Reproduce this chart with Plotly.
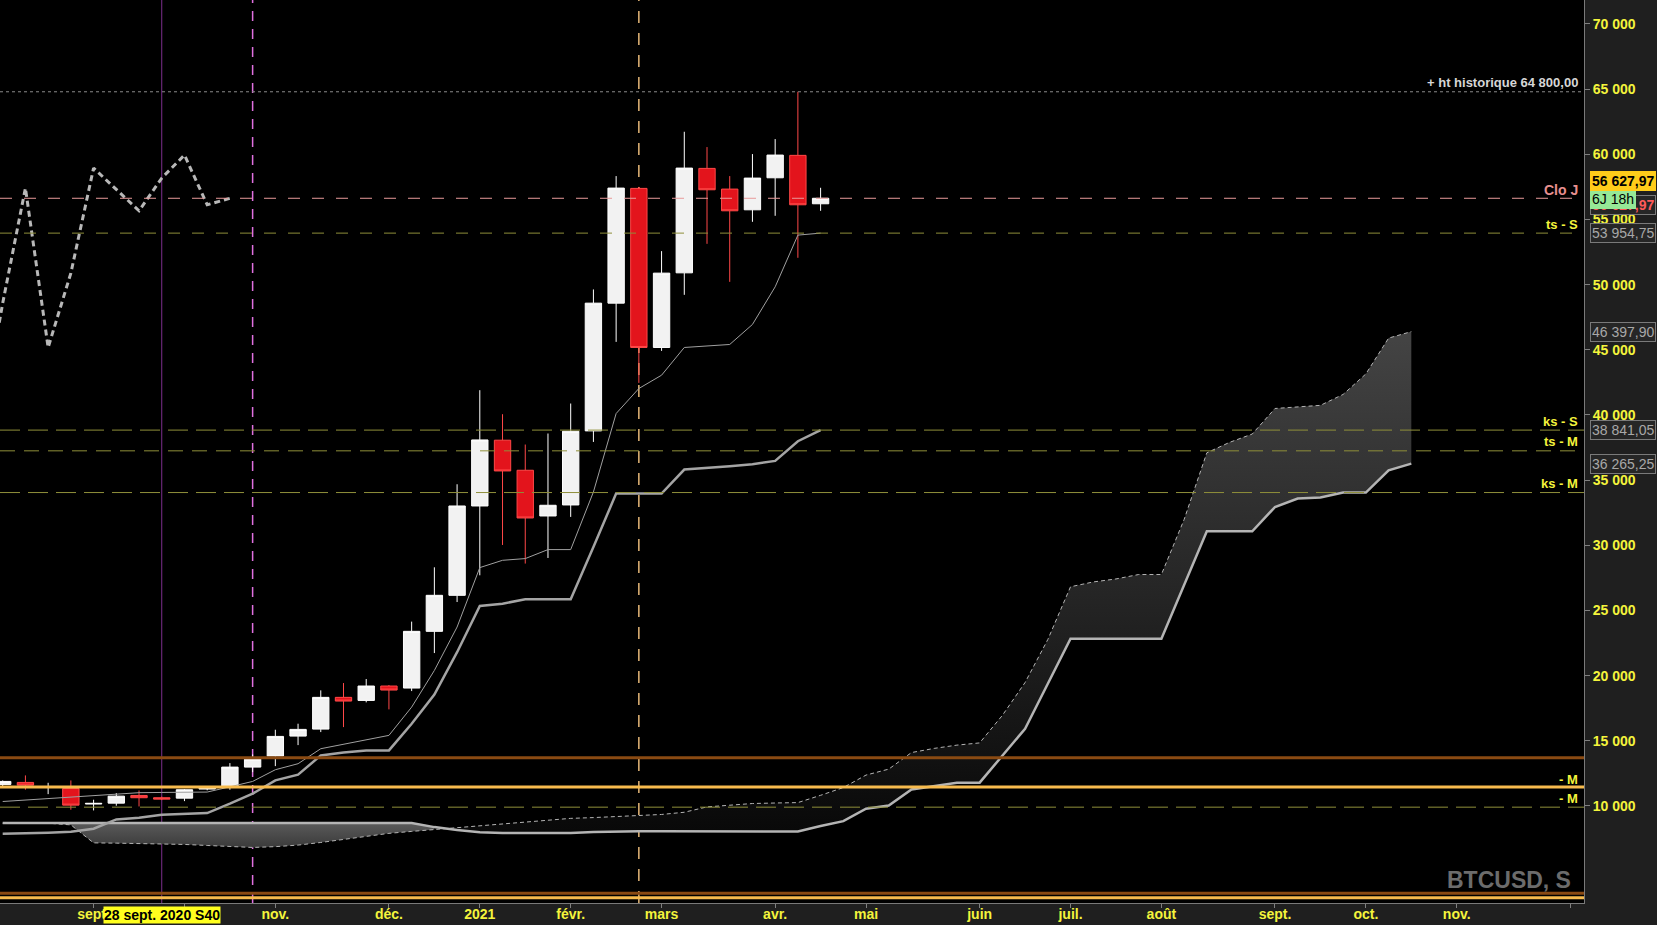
import pandas as pd
import plotly.graph_objects as go

# weekly BTCUSD candles (each Monday)
first_week = "2020-08-10"
opens = [11655, 11808, 11420, 11348, 10150, 10220, 10808, 10634, 10603, 11300,
         11500, 12984, 13830, 15364, 15900, 18334, 18100, 19204, 19049, 23401,
         26164, 33020, 38066, 35760, 32252, 33097, 38780, 48581, 57386, 45180,
         50907, 58920, 57333, 55744, 58200, 59920, 56206]
highs = [11960, 12346, 11780, 11960, 10480, 10990, 11190, 10720, 11300, 11450,
         13291, 13956, 15852, 16313, 18872, 19434, 19741, 19280, 24146, 28314,
         34686, 41903, 40060, 37733, 38580, 40880, 49633, 58330, 57500, 52573,
         61732, 60557, 58330, 60020, 61171, 64800, 57433]
lows = [11400, 11250, 10910, 9714, 9660, 10020, 9966, 10450, 10375, 11200,
        11248, 12598, 13060, 14672, 15670, 16053, 17950, 17412, 18818, 21735,
        25650, 27700, 30027, 28600, 29030, 32180, 37933, 45610, 42463, 44920,
        49219, 53133, 50216, 54822, 55283, 52060, 55667]
closes = [11885, 11600, 11470, 10066, 10200, 10757, 10634, 10527, 11248, 11370,
          12984, 13598, 15339, 15877, 18334, 18050, 19204, 18896, 23401, 26164,
          33020, 38087, 35707, 32098, 33073, 38755, 48581, 57410, 45180, 50885,
          58945, 57280, 55667, 58177, 59943, 56128, 56628]

# ichimoku lines on the same weeks
tenkan = [10345, 10450, 10560, 10670, 10780, 10900, 11020, 11040, 11060, 11070,
          11470, 11885, 12783, 13244, 14395, 14730, 15070, 15417, 17588, 20400,
          23731, 28291, 28851, 28982, 29673, 29673, 34095, 40113, 42033, 43054,
          45180, 45280, 45410, 46946, 49833, 53802, 53955]
kijun = [7870, 7900, 7950, 8024, 8255, 8968, 9100, 9330, 9407, 9458,
         10175, 10943, 11963, 12400, 13881, 14112, 14265, 14265, 16315, 18550,
         21800, 25345, 25525, 25858, 25858, 25858, 29873, 33970, 33970, 33970,
         35813, 35916, 36070, 36222, 36476, 37990, 38841]

# cloud, runs 26 weeks past the last candle
span_a = [8680, 8680, 8680, 8550, 7170, 7150, 7130, 7120, 7050, 6970,
          6900, 6820, 6880, 7000, 7200, 7450, 7700, 7900, 8050, 8200,
          8350, 8500, 8650, 8800, 8950, 9050, 9110, 9180, 9260, 9350,
          9520, 9930, 10060, 10190, 10230, 10260, 10820, 11414, 12373, 12830,
          14100, 14420, 14670, 14840, 16950, 19475, 22770, 26820, 27190, 27420,
          27760, 27760, 31980, 37100, 37900, 38540, 40500, 40600, 40740, 41580,
          43150, 45900, 46397.9]
span_b = [8700, 8700, 8700, 8700, 8700, 8700, 8700, 8700, 8700, 8700,
          8700, 8700, 8700, 8700, 8700, 8700, 8700, 8700, 8700, 8380,
          8150, 7990, 7930, 7930, 7930, 7930, 8000, 8040, 8060, 8060,
          8060, 8060, 8060, 8060, 8060, 8050, 8460, 8840, 9790, 10040,
          11270, 11530, 11790, 11790, 13860, 15930, 19380, 22840, 22840, 22840,
          22840, 22840, 26960, 31080, 31080, 31080, 32940, 33590, 33670, 34050,
          34050, 35760, 36265.25]
cloud_cross = 19  # week where span A goes above span B

shift_weeks = 26

# horizontal levels
ath = 64800
clo_j = 56627.97
ts_s = 53954.75
ks_s = 38841.05
ts_m = 37250
ks_m = 34050
brown_level = 13700
orange_level = 11450
m_dash_level = 9910
low_brown = 3310
low_orange = 2960

# price boxes on the right axis
box_values = [53954.75, 46397.90, 38841.05, 36265.25]
box_texts = ["53 954,75", "46 397,90", "38 841,05", "36 265,25"]

y_ticks = [10000, 15000, 20000, 25000, 30000, 35000, 40000, 45000, 50000,
           55000, 60000, 65000, 70000]
y_labels = ["10 000", "15 000", "20 000", "25 000", "30 000", "35 000", "40 000",
            "45 000", "50 000", "55 000", "60 000", "65 000", "70 000"]
# oct. 2020 sits under the crosshair date box, so its label stays empty
x_ticks = ["2020-09-07", "2020-10-05", "2020-11-02", "2020-12-07", "2021-01-04",
           "2021-02-01", "2021-03-01", "2021-04-05", "2021-05-03", "2021-06-07",
           "2021-07-05", "2021-08-02", "2021-09-06", "2021-10-04", "2021-11-01",
           "2021-12-06"]
x_labels = ["sept.", "", "nov.", "déc.", "2021", "févr.", "mars", "avr.", "mai",
            "juin", "juil.", "août", "sept.", "oct.", "nov.", ""]

crosshair_day = "2020-09-28"
pink_day = "2020-10-26"
beige_day = "2021-02-22"

weeks = pd.date_range(first_week, periods=len(opens), freq="7D")
cloud_weeks = pd.date_range(first_week, periods=len(span_a), freq="7D")
chikou_weeks = weeks - pd.Timedelta(weeks=shift_weeks)

FONT = "Liberation Sans"
YELLOW = "#f4f43c"
OLIVE = "#8f8f3a"

fig = go.Figure()

# cloud fills (two pieces, each with its own shade)
c = cloud_cross
fig.add_trace(go.Scatter(x=cloud_weeks[:c + 1], y=span_b[:c + 1], mode="lines",
                         line=dict(width=0), hoverinfo="skip"))
fig.add_trace(go.Scatter(x=cloud_weeks[:c + 1], y=span_a[:c + 1], mode="lines",
                         line=dict(width=0), fill="tonexty", fillcolor="#474747",
                         fillgradient=dict(type="vertical", start=6800, stop=8700,
                                           colorscale=[[0, "#3a3a3a"], [1, "#5a5a5a"]]),
                         hoverinfo="skip"))
fig.add_trace(go.Scatter(x=cloud_weeks[c:], y=span_b[c:], mode="lines",
                         line=dict(width=0), hoverinfo="skip"))
fig.add_trace(go.Scatter(x=cloud_weeks[c:], y=span_a[c:], mode="lines",
                         line=dict(width=0), fill="tonexty", fillcolor="#262626",
                         fillgradient=dict(type="vertical", start=7500, stop=46400,
                                           colorscale=[[0, "#080808"], [1, "#444444"]]),
                         hoverinfo="skip"))

# cloud edges
fig.add_trace(go.Scatter(x=cloud_weeks, y=span_b, mode="lines",
                         line=dict(color="#b4b4b4", width=2.5)))
fig.add_trace(go.Scatter(x=cloud_weeks, y=span_a, mode="lines",
                         line=dict(color="#b4b4b4", width=1, dash="4px,3px")))

# tenkan / kijun / chikou
fig.add_trace(go.Scatter(x=weeks, y=kijun, mode="lines",
                         line=dict(color="#a4a4a4", width=2.5)))
fig.add_trace(go.Scatter(x=weeks, y=tenkan, mode="lines",
                         line=dict(color="#a0a0a0", width=1)))
fig.add_trace(go.Scatter(x=chikou_weeks, y=closes, mode="lines",
                         line=dict(color="#b8b8b8", width=3, dash="6px,4px")))

fig.add_trace(go.Candlestick(
    x=weeks, open=opens, high=highs, low=lows, close=closes,
    increasing=dict(line=dict(color="#ffffff", width=1), fillcolor="#f2f2f2"),
    decreasing=dict(line=dict(color="#ff4848", width=1), fillcolor="#e3141c"),
    whiskerwidth=0, hoverinfo="skip"))

shapes = []


def hline(v, color, width, dash="solid"):
    shapes.append(dict(type="line", xref="paper", x0=0, x1=1, yref="y", y0=v, y1=v,
                       line=dict(color=color, width=width, dash=dash), layer="above"))


def vline(day, color, width, dash="solid"):
    shapes.append(dict(type="line", xref="x", x0=day, x1=day, yref="paper", y0=0, y1=1,
                       line=dict(color=color, width=width, dash=dash), layer="below"))


hline(ath, "#8a8a8a", 1, "3px,3px")
hline(clo_j, "#e89a9a", 1, "12px,12px")
hline(ts_s, OLIVE, 1, "12px,12px")
hline(ks_s, OLIVE, 1, "20px,8px")
hline(ts_m, OLIVE, 1, "15px,9px")
hline(ks_m, OLIVE, 1, "20px,8px")
hline(brown_level, "#8a4a12", 3)
hline(orange_level, "#f7bb4e", 3)
hline(m_dash_level, OLIVE, 1, "20px,8px")
hline(low_brown, "#8a4a12", 3)
hline(low_orange, "#f7bb4e", 3)
vline(crosshair_day, "#7d2f8e", 1)
vline(pink_day, "#e070e0", 1.5, "10px,8px")
vline(beige_day, "#e6b878", 1.5, "12px,10px")

annotations = []


def label(v, text, color, size=13, dy=9):
    annotations.append(dict(xref="paper", x=0.9975, xanchor="right", yref="y", y=v,
                            yshift=dy, text=text, showarrow=False,
                            font=dict(family=FONT, size=size, color=color, weight="bold")))


label(ath, "+ ht historique 64 800,00", "#d6d6d6", 13, 9)
label(clo_j, "Clo J", "#e89090", 14, 8)
label(ts_s, "ts - S", YELLOW)
label(ks_s, "ks - S", YELLOW)
label(ts_m, "ts - M", YELLOW)
label(ks_m, "ks - M", YELLOW)
label(orange_level, "- M", YELLOW, 13, 8)
label(m_dash_level, "- M", YELLOW, 13, 9)


def price_box(v, text, bg, fg, border, dy=0, bold=False):
    annotations.append(dict(xref="paper", x=1.0035, xanchor="left", yref="y", y=v,
                            yshift=dy, text=text, showarrow=False, bgcolor=bg,
                            bordercolor=border, borderwidth=1, borderpad=1,
                            font=dict(family=FONT, size=14, color=fg,
                                      weight="bold" if bold else "normal")))


for v, t in zip(box_values, box_texts):
    price_box(v, t, "#262626", "#a8a8a8", "#7a7a7a")
price_box(clo_j, "56 627,97", "#262626", "#ff5a5a", "#7a7a7a", dy=-7, bold=True)
price_box(clo_j, "6J 18h", "#96e896", "#000000", "#96e896", dy=-1)
price_box(clo_j, "56 627,97", "#ffcc1a", "#000000", "#ffcc1a", dy=17, bold=True)

annotations.append(dict(xref="x", x=crosshair_day, yref="paper", y=0, yshift=-12,
                        yanchor="middle", text="28 sept. 2020 S40", showarrow=False,
                        bgcolor="#ffff1e", borderpad=0,
                        font=dict(family=FONT, size=14, color="#000000", weight="bold")))
annotations.append(dict(xref="paper", x=0.993, xanchor="right", yref="paper", y=0.0255,
                        yanchor="middle", text="BTCUSD, S", showarrow=False,
                        font=dict(family=FONT, size=23, color="#6c6c6c", weight="bold")))

fig.update_layout(
    width=1657, height=925,
    margin=dict(l=0, r=73, t=0, b=22),
    paper_bgcolor="#1f1f1f", plot_bgcolor="#000000",
    showlegend=False,
    boxgap=0.28, boxgroupgap=0,
    shapes=shapes, annotations=annotations,
    xaxis=dict(type="date", range=["2020-08-09 04:00", "2021-12-10 05:00"],
               rangeslider=dict(visible=False), showgrid=False, zeroline=False,
               tickvals=x_ticks, ticktext=x_labels, ticks="outside", ticklen=4,
               tickcolor="#808080", showline=True, linecolor="#7a7a7a",
               ticklabelstandoff=-6,
               tickfont=dict(family=FONT, size=14, color=YELLOW, weight="bold"),
               automargin=False, fixedrange=True),
    yaxis=dict(side="right", range=[2557, 71841], showgrid=False, zeroline=False,
               tickvals=y_ticks, ticktext=y_labels, ticks="outside", ticklen=5,
               tickcolor="#808080", showline=True, linecolor="#7a7a7a",
               tickfont=dict(family=FONT, size=14, color=YELLOW, weight="bold"),
               automargin=False, fixedrange=True),
)

# drop the page's default body margin so the figure fills the window exactly
fig.write_html("out.html", config={"displayModeBar": False},
               post_script="document.body.style.margin = '0';")
